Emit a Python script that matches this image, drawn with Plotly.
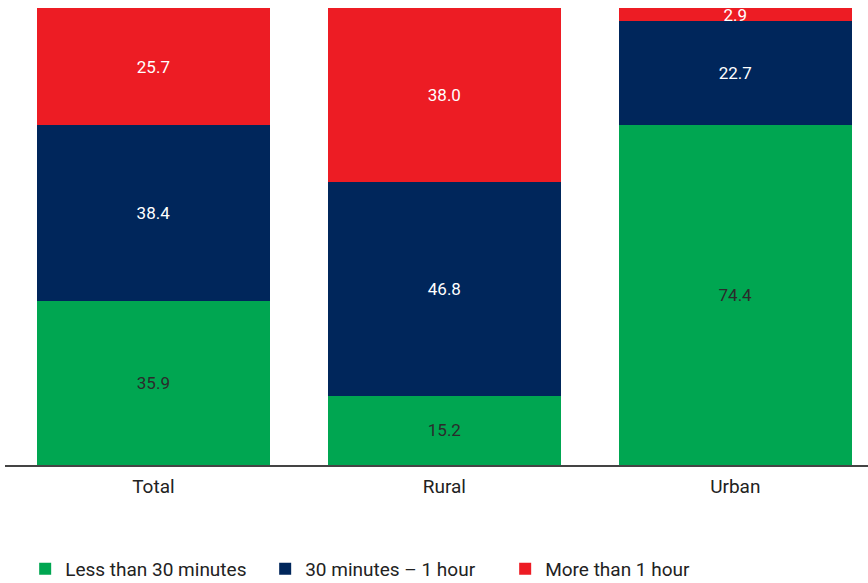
import plotly.graph_objects as go

# Share of population by travel time, by area
categories = ["Total", "Rural", "Urban"]
less_30 = [35.9, 15.2, 74.4]
min30_1h = [38.4, 46.8, 22.7]
more_1h = [25.7, 38.0, 2.9]

series = [
    ("Less than 30 minutes", less_30, "#00A651", "#2b2b2b"),
    ("30 minutes \u2013 1 hour", min30_1h, "#00265B", "#ffffff"),
    ("More than 1 hour", more_1h, "#ED1C24", "#ffffff"),
]

FONT = "Liberation Sans Narrow, Arial Narrow, Roboto, sans-serif"

fig = go.Figure()
for name, vals, color, tcolor in series:
    fig.add_trace(go.Bar(
        x=categories, y=vals, name=name,
        marker=dict(color=color, line=dict(width=0)),
        text=[f"{v:.1f}" for v in vals],
        textposition="inside",
        insidetextanchor="middle",
        constraintext="none",
        textfont=dict(family=FONT, size=17, color=tcolor),
        hoverinfo="skip",
    ))

fig.update_layout(
    barmode="stack",
    bargap=0.2,
    width=868, height=583,
    margin=dict(l=5, r=0, t=8, b=118),
    paper_bgcolor="white", plot_bgcolor="white",
    font=dict(family=FONT, size=18, color="#222222"),
    showlegend=True,
    legend=dict(
        orientation="h", xref="container", yref="container",
        x=0.029, y=0.024, xanchor="left", yanchor="middle",
        entrywidth=195, entrywidthmode="pixels",
        font=dict(family=FONT, size=19, color="#222222"),
        traceorder="normal",
        itemsizing="constant",
    ),
    xaxis=dict(
        range=[-0.51, 2.456],
        showline=True, linecolor="#444444", linewidth=1.5,
        ticks="outside", ticklen=3, tickcolor="rgba(0,0,0,0)",
        showgrid=False,
        tickfont=dict(family=FONT, size=19, color="#222222"),
    ),
    yaxis=dict(range=[0, 100], visible=False, showgrid=False),
)

fig.write_html("out.html")
